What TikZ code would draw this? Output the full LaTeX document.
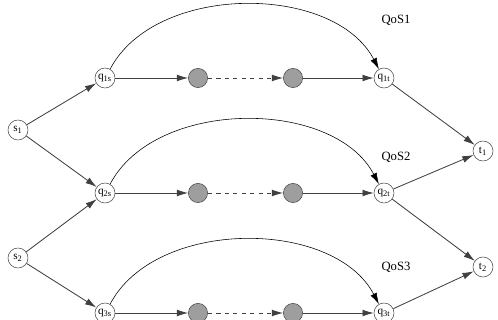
\documentclass[tikz,border=0pt]{standalone}
\usepackage{fontspec}
\setmainfont{Liberation Serif}
\usetikzlibrary{arrows.meta}
\tikzset{
  qnode/.style = {circle,draw=black!70,fill=white,minimum size=0.5cm,inner sep=0pt,font=\footnotesize},
  hop/.style = {circle,draw=black!70,fill=black!38,minimum size=0.48cm,inner sep=0pt},
  link/.style = {draw=black!75,semithick},
  qos/.style = {font=\small}
}
\tikzset{>={Latex[length=2.8mm,width=1.7mm]}}

\begin{document}
\begin{tikzpicture}[x=0.025cm,y=0.025cm]
    \useasboundingbox (0,0) rectangle (498,320);
    % sources and sinks
    \node[qnode] (s1) at (18,190) {s\textsubscript{1}};
    \node[qnode] (s2) at (18,62) {s\textsubscript{2}};
    \node[qnode] (t1) at (483,169) {t\textsubscript{1}};
    \node[qnode] (t2) at (483,53) {t\textsubscript{2}};
    % three QoS paths
    \foreach \i/\y in {1/242,2/127,3/7} {
      \node[qnode] (q\i s) at (105,\y) {q\textsubscript{\i s}};
      \node[hop] (h\i a) at (198,\y) {};
      \node[hop] (h\i b) at (293,\y) {};
      \node[qnode] (q\i t) at (384,\y) {q\textsubscript{\i t}};
      \draw[link,->] (q\i s) -- (h\i a);
      \draw[link,dashed,->] (h\i a) -- (h\i b);
      \draw[link,->] (h\i b) -- (q\i t);
      \draw[->] (q\i s.60) .. controls +(45,86) and +(-45,86) .. (q\i t.120);
    }
    \node[qos] (qos1) at (396,300) {QoS1};
    \node[qos] (qos2) at (396,163) {QoS2};
    \node[qos] (qos3) at (396,53) {QoS3};
    % entry and exit links
    \draw[link,->] (s1) -- (q1s);
    \draw[link,->] (s1) -- (q2s);
    \draw[link,->] (s2) -- (q2s);
    \draw[link,->] (s2) -- (q3s);
    \draw[link,->] (q1t) -- (t1);
    \draw[link,->] (q2t) -- (t1);
    \draw[link,->] (q2t) -- (t2);
    \draw[link,->] (q3t) -- (t2);
\end{tikzpicture}
\end{document}
